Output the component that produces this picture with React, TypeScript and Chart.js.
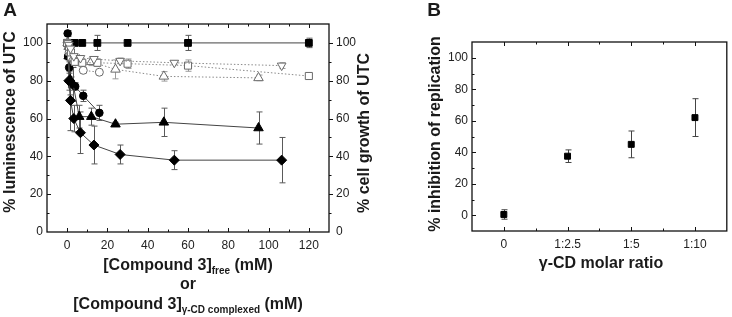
import React, { useEffect, useRef } from 'react';
import { Chart, registerables } from 'chart.js';
Chart.register(...registerables);

const FONT = "'Liberation Sans', Arial, Helvetica, sans-serif";

// ---------- Panel A data ----------
const sqX = [0, 0.94, 1.9, 3.75, 7.5, 15, 30, 60, 120];
const fSqY = [100, 100, 99.5, 100, 100, 100, 100, 100, 100];
const fSqErr = [1, 1, 1, 1, 1.5, 4, 1, 4, 2.5];
const oSqY = [100, 98, 95, 90, 89.5, 89.5, 89, 88, 82.5];
const oSqErr = [1, 1, 1, 1.5, 1, 2, 2.5, 3, 1];

const ciX = [0.25, 0.5, 1, 2, 4, 8, 16];
const fCiY = [105, 93, 87, 79, 77, 72, 63];
const fCiErr = [1.5, 2, 3, 3, 2, 3, 4];
const oCiY = [100, 99, 95, 92, 90, 85.5, 84.5];
const oCiErr = [1, 1, 1, 1, 1, 1.5, 1];

const trX = [0.375, 0.75, 1.5, 3, 6, 12, 24, 48, 95];
const fTrY = [100, 93, 80.5, 78, 61, 61, 57, 58, 55];
const fTrErr = [1, 2, 8, 9, 6, 4.5, 1, 7.5, 8.5];
const oTrY = [100, 98, 95, 92, 91, 90, 86, 82.3, 81.5];
const oTrErr = [1, 1, 1, 1, 2, 2, 5, 2.5, 1.5];

const diX = [0.4, 0.83, 1.66, 3.3, 6.6, 13.3, 26.3, 53.2, 106.5];
const fDiY = [100, 80, 69.6, 60, 52.5, 46, 41, 38, 38];
const fDiErr = [1, 5, 16, 7, 11, 10, 5, 5, 12];
const oDiY = [100, 99, 97, 93, 92, 91.5, 90.5, 89.5, 88];
const oDiErr = [1, 1, 1, 1, 1, 1, 1.5, 1, 1.5];

const aXTicks = [0, 20, 40, 60, 80, 100, 120];
const aXMinor = [10, 30, 50, 70, 90, 110, 130, -10];
const aYTicks = [0, 20, 40, 60, 80, 100];
const aYMinor = [10, 30, 50, 70, 90, 110];

// ---------- Panel B data ----------
const bCategories = ['0', '1:2.5', '1:5', '1:10'];
const bValues = [0.5, 37.5, 45, 62];
const bErrors = [3, 4, 8.5, 12];
const bYTicks = [0, 20, 40, 60, 80, 100];
const bYMinor = [-10, 10, 30, 50, 70, 90, 110];
const bXMinor = [0.5, 1.5, 2.5];

const pts = (xs: number[], ys: number[]) => xs.map((x, i) => ({ x, y: ys[i] }));

const errorBarPlugin = {
  id: 'errorBars',
  beforeDatasetsDraw(chart: any) {
    const ctx = chart.ctx;
    chart.data.datasets.forEach((ds: any, i: number) => {
      const errs = ds.errors;
      if (!errs) return;
      const meta = chart.getDatasetMeta(i);
      const xs = chart.scales[meta.xAxisID];
      const ys = chart.scales[meta.yAxisID];
      ctx.save();
      ctx.strokeStyle = ds.errorColor || '#888';
      ctx.lineWidth = 1;
      ds.data.forEach((p: any, j: number) => {
        const e = errs[j];
        if (!e) return;
        const px = Math.round(xs.getPixelForValue(p.x)) + 0.5;
        const top = ys.getPixelForValue(p.y + e);
        const bot = ys.getPixelForValue(p.y - e);
        ctx.beginPath();
        ctx.moveTo(px, top);
        ctx.lineTo(px, bot);
        ctx.moveTo(px - 3, top);
        ctx.lineTo(px + 3, top);
        ctx.moveTo(px - 3, bot);
        ctx.lineTo(px + 3, bot);
        ctx.stroke();
      });
      ctx.restore();
    });
  },
};

type Seg = { t: string; size: number; dy?: number };
type RichLine = { segs: Seg[]; x: number; y: number; rot?: boolean };

function drawRich(ctx: CanvasRenderingContext2D, line: RichLine) {
  ctx.save();
  ctx.fillStyle = '#1a1a1a';
  ctx.textBaseline = 'alphabetic';
  ctx.textAlign = 'left';
  let total = 0;
  const widths = line.segs.map((s) => {
    ctx.font = `bold ${s.size}px ${FONT}`;
    const w = ctx.measureText(s.t).width;
    total += w;
    return w;
  });
  ctx.translate(line.x, line.y);
  if (line.rot) ctx.rotate(-Math.PI / 2);
  let cx = -total / 2;
  line.segs.forEach((s, i) => {
    ctx.font = `bold ${s.size}px ${FONT}`;
    ctx.fillText(s.t, cx, s.dy || 0);
    cx += widths[i];
  });
  ctx.restore();
}

const framePlugin = {
  id: 'frame',
  afterDraw(chart: any, _args: any, opts: any) {
    const { ctx, chartArea: a } = chart;
    const xs = chart.scales.x;
    const ys = chart.scales.y;
    ctx.save();
    ctx.strokeStyle = '#111';
    ctx.lineWidth = 1.3;
    ctx.strokeRect(a.left, a.top, a.right - a.left, a.bottom - a.top);
    ctx.lineWidth = 1;
    const seg = (x1: number, y1: number, x2: number, y2: number) => {
      ctx.beginPath();
      ctx.moveTo(x1, y1);
      ctx.lineTo(x2, y2);
      ctx.stroke();
    };
    const xt = (vals: number[], len: number) =>
      vals.forEach((v) => {
        const p = Math.round(xs.getPixelForValue(v)) + 0.5;
        if (p < a.left + 1 || p > a.right - 1) return;
        seg(p, a.bottom, p, a.bottom - len);
        seg(p, a.top, p, a.top + len);
      });
    const yt = (vals: number[], len: number) =>
      vals.forEach((v) => {
        const p = Math.round(ys.getPixelForValue(v)) + 0.5;
        if (p < a.top + 1 || p > a.bottom - 1) return;
        seg(a.left, p, a.left + len, p);
        if (opts.rightOut) seg(a.right, p, a.right + len, p);
        else if (opts.rightTicks) seg(a.right, p, a.right - len, p);
      });
    xt(opts.xMajor || [], 4);
    xt(opts.xMinor || [], 2.5);
    yt(opts.yMajor || [], 4);
    yt(opts.yMinor || [], 2.5);
    ctx.restore();
    (opts.texts || []).forEach((l: RichLine) => drawRich(ctx, l));
  },
};

const tickFont = { family: FONT, size: 12 };

function makeA(canvas: HTMLCanvasElement) {
  const open = (data: any, style: string, errs: number[], r: number, rot = 0) => ({
    data,
    errors: errs,
    errorColor: '#9a9a9a',
    showLine: true,
    borderColor: '#8a8a8a',
    borderWidth: 1,
    borderDash: [1.5, 2],
    backgroundColor: '#fff',
    pointBackgroundColor: '#fff',
    pointBorderColor: '#6a6a6a',
    pointBorderWidth: 1,
    pointStyle: style,
    pointRotation: rot,
    pointRadius: r,
    yAxisID: 'y',
  });
  const filled = (data: any, style: string, errs: number[], r: number) => ({
    data,
    errors: errs,
    errorColor: '#5a5a5a',
    showLine: true,
    borderColor: '#444',
    borderWidth: 1,
    backgroundColor: '#000',
    pointBackgroundColor: '#000',
    pointBorderColor: '#000',
    pointBorderWidth: 1,
    pointStyle: style,
    pointRadius: r,
    yAxisID: 'y',
  });
  return new Chart(canvas, {
    type: 'scatter',
    data: {
      datasets: [
        open(pts(diX, oDiY), 'triangle', oDiErr, 5, 180),
        open(pts(sqX, oSqY), 'rect', oSqErr, 5),
        open(pts(trX, oTrY), 'triangle', oTrErr, 5.5),
        open(pts(ciX, oCiY), 'circle', oCiErr, 4),
        filled(pts(diX, fDiY), 'rectRot', fDiErr, 5),
        filled(pts(trX, fTrY), 'triangle', fTrErr, 5.5),
        filled(pts(ciX, fCiY), 'circle', fCiErr, 3.8),
        filled(pts(sqX, fSqY), 'rect', fSqErr, 4.8),
      ] as any,
    },
    options: {
      responsive: false,
      animation: false,
      devicePixelRatio: 1,
      layout: { padding: { top: 24, left: 0, right: 0, bottom: 0 } },
      plugins: {
        legend: { display: false },
        tooltip: { enabled: false },
        frame: {
          xMajor: aXTicks,
          xMinor: aXMinor,
          yMajor: aYTicks,
          yMinor: aYMinor,
          rightOut: true,
          texts: [
            { segs: [{ t: 'A', size: 19 }], x: 10, y: 16 },
            { segs: [{ t: '% luminescence of UTC', size: 16 }], x: 15, y: 122, rot: true },
            { segs: [{ t: '% cell growth of UTC', size: 16 }], x: 369, y: 133, rot: true },
            {
              segs: [
                { t: '[Compound 3]', size: 16 },
                { t: 'free', size: 10, dy: 4 },
                { t: ' (mM)', size: 16 },
              ],
              x: 188,
              y: 270,
            },
            { segs: [{ t: 'or', size: 16 }], x: 188, y: 289 },
            {
              segs: [
                { t: '[Compound 3]', size: 16 },
                { t: '\u03b3-CD complexed', size: 10, dy: 4 },
                { t: ' (mM)', size: 16 },
              ],
              x: 188,
              y: 309,
            },
          ],
        },
      } as any,
      scales: {
        x: {
          type: 'linear',
          min: -10,
          max: 130,
          grid: { display: false, drawTicks: false },
          border: { display: false },
          ticks: { font: tickFont, color: '#222', padding: 6, maxRotation: 0 },
          afterBuildTicks: (s: any) => {
            s.ticks = aXTicks.map((v) => ({ value: v }));
          },
          afterFit: (s: any) => {
            s.height = 317 - 232 - 24 * 0;
          },
        },
        y: {
          type: 'linear',
          position: 'left',
          min: 0,
          max: 110,
          grid: { display: false, drawTicks: false },
          border: { display: false },
          ticks: { font: tickFont, color: '#222', padding: 4 },
          afterBuildTicks: (s: any) => {
            s.ticks = aYTicks.map((v) => ({ value: v }));
          },
          afterFit: (s: any) => {
            s.width = 47;
          },
        },
        y2: {
          type: 'linear',
          position: 'right',
          min: 0,
          max: 110,
          grid: { display: false, drawTicks: false },
          border: { display: false },
          ticks: { font: tickFont, color: '#222', padding: 7 },
          afterBuildTicks: (s: any) => {
            s.ticks = aYTicks.map((v) => ({ value: v }));
          },
          afterFit: (s: any) => {
            s.width = 420 - 329;
          },
        },
      } as any,
    },
    plugins: [errorBarPlugin, framePlugin],
  });
}

function makeB(canvas: HTMLCanvasElement) {
  return new Chart(canvas, {
    type: 'scatter',
    data: {
      datasets: [
        {
          data: pts(bCategories.map((_, i) => i), bValues),
          errors: bErrors,
          errorColor: '#444',
          showLine: false,
          pointStyle: 'rect',
          pointRadius: 4.2,
          pointBackgroundColor: '#000',
          pointBorderColor: '#000',
          pointBorderWidth: 1,
        } as any,
      ],
    },
    options: {
      responsive: false,
      animation: false,
      devicePixelRatio: 1,
      layout: { padding: { top: 42, left: 0, right: 1, bottom: 0 } },
      plugins: {
        legend: { display: false },
        tooltip: { enabled: false },
        frame: {
          xMajor: bCategories.map((_, i) => i),
          xMinor: bXMinor,
          yMajor: bYTicks,
          yMinor: bYMinor,
          texts: [
            { segs: [{ t: 'B', size: 19 }], x: 14, y: 16 },
            { segs: [{ t: '% inhibition of replication', size: 16 }], x: 20, y: 134, rot: true },
            { segs: [{ t: '\u03b3-CD molar ratio', size: 16 }], x: 181, y: 268 },
          ],
        },
      } as any,
      scales: {
        x: {
          type: 'linear',
          min: -0.5,
          max: 3.5,
          grid: { display: false, drawTicks: false },
          border: { display: false },
          ticks: {
            font: tickFont,
            color: '#222',
            padding: 6,
            maxRotation: 0,
            callback: (v: any) => bCategories[v] ?? '',
          },
          afterBuildTicks: (s: any) => {
            s.ticks = bCategories.map((_, i) => ({ value: i }));
          },
          afterFit: (s: any) => {
            s.height = 317 - 231;
          },
        },
        y: {
          type: 'linear',
          min: -10,
          max: 110,
          grid: { display: false, drawTicks: false },
          border: { display: false },
          ticks: { font: tickFont, color: '#222', padding: 4 },
          afterBuildTicks: (s: any) => {
            s.ticks = bYTicks.map((v) => ({ value: v }));
          },
          afterFit: (s: any) => {
            s.width = 52;
          },
        },
      } as any,
    },
    plugins: [errorBarPlugin, framePlugin],
  });
}

export default function App() {
  const refA = useRef<HTMLCanvasElement>(null);
  const refB = useRef<HTMLCanvasElement>(null);
  useEffect(() => {
    document.body.style.margin = '0';
    const a = makeA(refA.current!);
    const b = makeB(refB.current!);
    return () => {
      a.destroy();
      b.destroy();
    };
  }, []);
  return (
    <div style={{ position: 'relative', width: 732, height: 317, background: '#fff' }}>
      <canvas
        ref={refA}
        width={420}
        height={317}
        style={{ position: 'absolute', left: 0, top: 0, width: 420, height: 317 }}
      />
      <canvas
        ref={refB}
        width={312}
        height={317}
        style={{ position: 'absolute', left: 420, top: 0, width: 312, height: 317 }}
      />
    </div>
  );
}
